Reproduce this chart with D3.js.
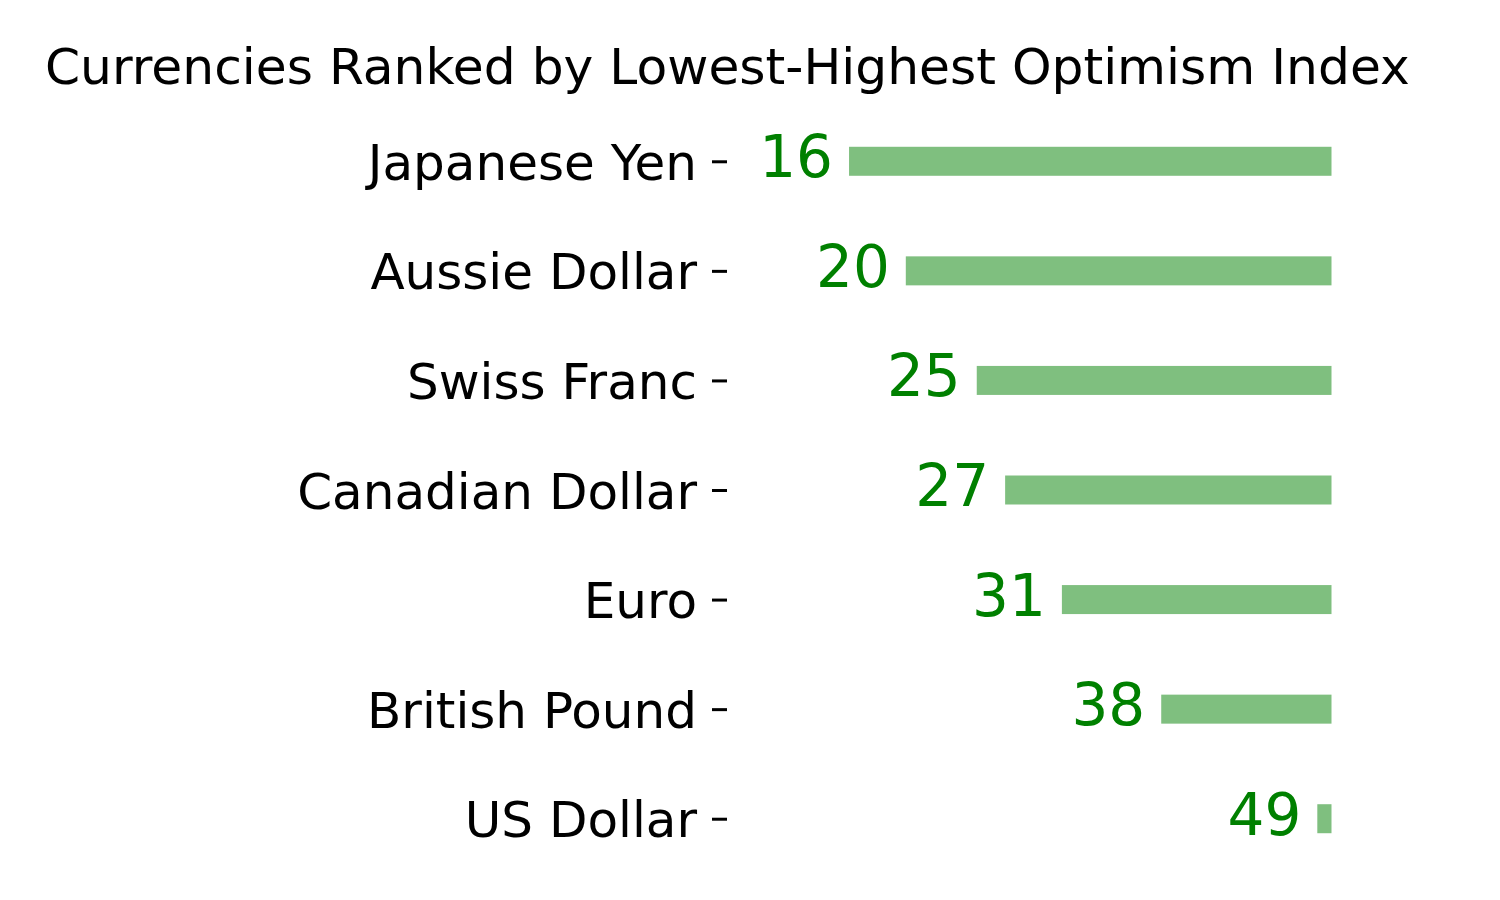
<!DOCTYPE html>
<html><head><meta charset="utf-8">
<script src="https://cdn.jsdelivr.net/npm/d3@7"></script>
<style>body{margin:0;background:#fff}svg{display:block}text{font-family:"DejaVu Sans",sans-serif}</style>
</head><body>
<svg id="c" width="1500" height="900"></svg>
<script>
const title = "Currencies Ranked by Lowest-Highest Optimism Index";
const currencies = ["Japanese Yen","Aussie Dollar","Swiss Franc","Canadian Dollar","Euro","British Pound","US Dollar"];
const optimism = [16,20,25,27,31,38,49];
const maxIndex = 50;

const svg = d3.select("#c");
const x = d3.scaleLinear().domain([0, maxIndex]).range([622, 1331.5]);
const y = d3.scalePoint().domain(currencies).range([106.5, 873.5]).padding(0.5);
const barH = 29;

svg.append("text").attr("x", 45).attr("y", 84).attr("font-size", 50.3).attr("fill", "#000").text(title);

svg.selectAll("rect.bar").data(currencies).join("rect").attr("class","bar")
  .attr("x", (d,i) => x(optimism[i]))
  .attr("width", (d,i) => x(maxIndex) - x(optimism[i]))
  .attr("y", d => y(d) - barH/2)
  .attr("height", barH)
  .attr("fill", "green").attr("fill-opacity", 0.5);

svg.selectAll("text.val").data(currencies).join("text").attr("class","val")
  .attr("x", (d,i) => x(optimism[i]) - 16)
  .attr("y", d => y(d) + 16)
  .attr("text-anchor", "end").attr("font-size", 58).attr("fill", "green")
  .text((d,i) => optimism[i]);

const axis = d3.axisLeft(y).tickSize(15).tickPadding(15);
const g = svg.append("g").attr("transform", "translate(727,0)").call(axis);
g.select(".domain").remove();
g.selectAll(".tick line").attr("stroke", "#000").attr("stroke-width", 3);
g.selectAll(".tick text").attr("font-size", 50).attr("fill", "#000").attr("dy", null).attr("y", 18)
  .attr("font-family", "DejaVu Sans");
</script>
</body></html>
